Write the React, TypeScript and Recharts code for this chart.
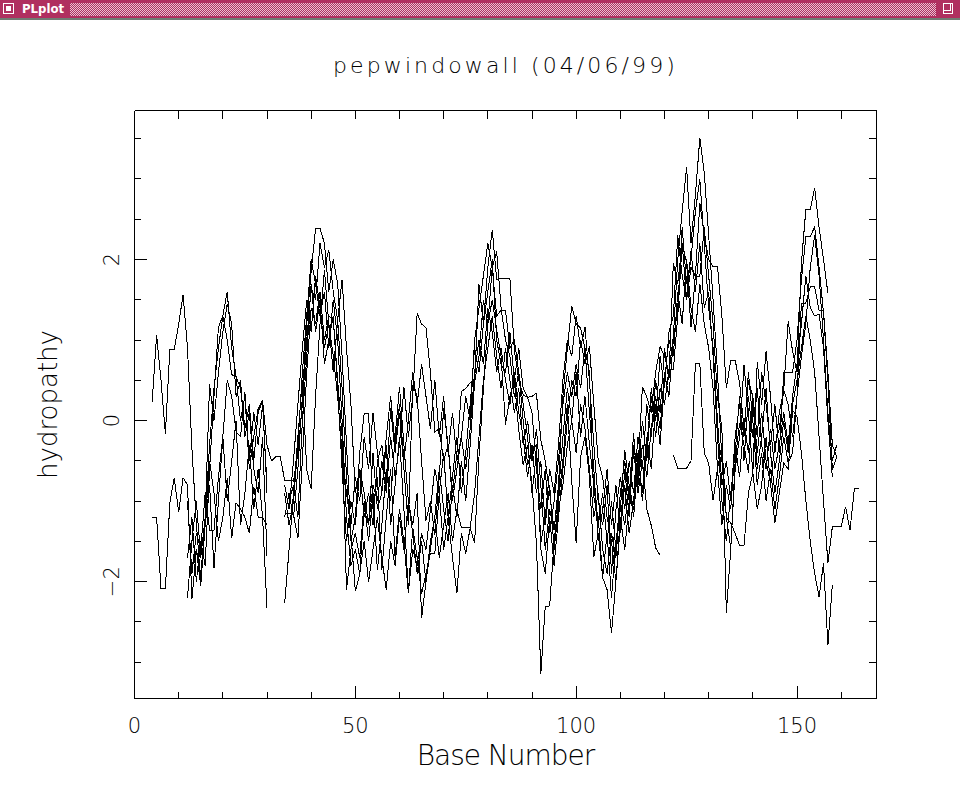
import React from 'react';
import { LineChart, Line, XAxis, YAxis } from 'recharts';

const N = null;

// Hydropathy profiles (Base Number -> value).
const s1Start = 4;
const s1 = [
  0.23, 1.06, 0.5, -0.16, 0.88, 0.88, 1.2, 1.56, 0.9, -0.34, -1.27, -2.0, -1.2, -0.3, 0.4, 0.9, 1.3, 1.6, 0.9, 0.55, 0.4, -0.1, 0.2, -0.5, 0.1, 0.25, -0.9,
  N, N, N,
  -1.2, -0.9, -1.2, -0.6, 0.3, 1.2, 1.85, 2.39, 2.39, 2.2,
  1.6, 2.0, 1.7, 0.8, -0.3, -1.4, -2.12, -1.9, -1.1, -1.3,
  -0.8, -1.0, -0.5, -0.9, -0.2, -0.7, -0.3, 0.42, -0.2, 0.3,
  1.33, 1.2, 1.15, 0.6, -0.14, -0.1, -0.5, -0.3, -0.9, -0.4,
  0.36, 0.4, 0.47, 0.47, 1.69, 1.2, 1.9, 2.37, 1.75, 1.77,
  1.77, 1.77, 0.88, 0.5, 0.32, 0.29, 0.3, 0.34, -0.24, -0.5,
  -0.9, -1.36, -0.8, 0.3, 0.9, 1.42, 1.2, 1.15, 0.9, 0.6,
  -0.95, -1.2, -1.95, -1.4, -2.2, -1.5, -1.1, -0.37, -0.8, -1.11,
  -0.6, 0.42, 0.29, 0.1, 0.6, 0.92, 0.8, 0.6, 1.04, 2.0,
  2.6, 3.15, 2.2, 2.8, 3.51, 3.08, 2.3, 1.5, 0.6, -0.5,
  -1.2, -1.58, -0.6, -0.2, 0.69, 0.1, -0.65, 0.73, 0.2, 0.86,
  0.3, -0.4, 0.1, 0.38, 1.23, 0.86, 0.6, 1.96, 2.62, 2.62,
  2.89, 2.4, 2.0, 1.58,
];

const s2Start = 4;
const s2 = [
  -1.2, -1.2, -2.08, -2.08, -1.02, -0.71, -1.14, -0.71, -0.8, -2.22, -1.6, -1.9, -1.3, -0.5, -0.9, -1.5, -1.2, -0.71, -1.46, -1.02, -1.1, -1.2, -1.4, -0.82, -1.2, -1.2, -2.33,
  N, N, N,
  -2.27, -1.6, -0.9, -0.2, 0.5, -0.61, -0.85, 0.3, 1.2, 1.87,
  1.2, 0.6, 1.25, 0.4, -0.7, -1.5, -1.2, -0.4, 0.09, 0.09,
  -1.1, -0.7, -1.86, -1.2, -0.6, -1.7, -1.1, -1.5, -2.14, -1.33,
  -1.7, -2.15, -1.9, -1.65, -1.65, -0.9, -1.6, -1.2, -1.7, -2.14,
  -1.4, -1.65, -1.33, -1.52, -0.45, 0.4, 1.2, 1.5, 1.13, 0.8,
  -0.05, 0.3, 0.5, -0.12, -0.55, -0.3, -0.8, -1.52, -3.14, -2.31,
  -2.3, -1.5, -1.0, -0.5, 0.2, -0.75, -1.52, -0.45, -0.2, -0.7,
  -1.69, -1.4, -1.95, -2.1, -2.64, -2.0, -1.2, -1.6, -1.0, -0.16,
  -0.9, -0.5, -1.1, -1.3, -1.58, -1.67,
  N, N,
  -0.43, -0.59, -0.59, -0.59, -0.5, 0.71, 0.71, -0.4, -0.53, -0.99,
  -0.6, -0.3, -1.2, -1.27, -1.4, -1.55, -1.55, -0.9, -0.65, -1.1,
  -0.8, -0.2, -0.78, -1.27, -0.9, -0.53, -0.6, 0.13, 0.05, -0.4,
  -0.99, -1.5, -1.9, -2.19, -1.77, -2.79, -2.04,
];

const s3Start = 12;
const s3 = [
  -1.7, -1.2, -2.0, -1.5, -1.8, -0.6, 0.3, 1.16, 1.3, 1.0, 0.57, 0.55, 0.0, 0.3, -0.6, -0.2, 0.15, 0.25, -0.3,
  -0.5, -0.45, -0.45, -0.74, -0.74, -0.75, -0.4, 0.2, 1.0, 1.65,
  1.5, 2.2, 1.9, 2.12, 1.6, 1.25, 1.75, 0.9, 0.2, -0.9,
  -0.6, -1.2, -0.9, -1.3, -0.5, -0.3, -0.8, 0.16, -0.4, 0.1,
  -0.6, -1.3, 0.44, 0.3, -0.5, -1.24, -1.0, -1.42, -0.7, 0.15,
  -0.3, -1.0, -0.6, -0.2, 0.3, 0.0, 1.0, 1.4, 1.8, 2.2,
  1.9, 1.3, 1.37, 1.37, 0.9, 1.0, 0.6, 0.0, -0.55, -0.38,
  -0.3, -1.52, -1.2, -0.6, -0.9, -0.3, 0.5, 1.0, 0.8, 1.3,
  0.9, 1.16, 0.5, -0.3, -1.0, -1.3, -0.8, -1.9, -1.11, -0.7,
  -1.1, -0.5, -0.9, -0.2, -0.6, 0.2, -0.2, 0.5, 0.1, 0.9,
  0.5, 1.96, 1.7, 2.2, 1.96, 1.16, 1.8, 2.7, 2.3, 2.0,
  1.91, 1.91, 1.3, 0.4, 0.75, 0.75, 0.47, -0.1, 0.5, 0.3,
  -0.2, 0.6, 0.2, -0.3, 0.2, -0.4, 0.6, 0.6, 0.6, 1.0,
  1.75, 2.28, 2.28, 2.41, 1.9, 1.34, 0.5, -0.61, -0.45,
];

const s4Start = 12;
const s4 = [
  -2.2, -1.5, -1.0, -1.7, -1.2, 0.45, 0.0, 0.6, 1.1, 1.45, 1.2, 0.3, 0.5, -0.2, 0.1, -0.6, -0.9, -0.2, -1.68,
  N, N, N,
  -1.15, -1.15, -1.17, -1.46, -0.5, 0.6, 1.4, 1.2, 1.6, 1.0,
  1.3, 1.25, 0.5, -0.2, -2.1, -1.6, -1.4, -1.7, -1.0, -1.5,
  -0.9, -1.86, -1.3, -0.6, -1.0, -0.2, 0.42, -0.3, -1.0, -1.3,
  -0.9, -2.45, -2.0, -1.5, -1.2, -0.6, -1.1, -1.5, -0.8, -1.2,
  -0.5, -1.0, -0.3, 0.47, 0.8, 1.5, 1.2, 1.9, 2.1, 1.4,
  1.0, 0.8, 0.3, 0.6, 0.2, -0.2, -0.9, -0.4, -1.6, -1.9,
  -1.2, -1.8, -1.2, -0.6, 0.0, 0.5, 0.3, 1.0, 0.7, 0.92,
  0.2, -0.5, -0.7, -1.2, -1.5, -2.0, -1.3, -0.8, -1.4, -1.0,
  -0.4, -1.0, -0.3, 0.3, -0.2, 0.4, 0.2, 0.63, 0.63, 1.3,
  2.2, 1.5, 1.9, 1.79, 1.79, 2.4, 1.8, 1.2, 0.29, -0.1,
  -2.39, -1.6, -0.5, -0.03, -0.3, -0.65, 0.2, -0.4, 0.1, -0.5,
  -0.78, -0.3, -0.1, 0.38, 0.2, -0.2, 0.3, 1.46, 1.46, 1.66,
  1.66, 1.37, 1.37, 0.6, -0.3, -0.45,
];

const s5Start = 13;
const s5 = [
  -1.8, -1.6, -2.05, -1.3, -0.8, -1.83, -1.0, -0.2, 0.5, 0.3, -0.14, -0.2, 0.35, -0.5, 0.1, -0.3, 0.2, -0.8,
  N, N, N, N,
  -1.0, -0.8, -1.2, 0.0, 0.8, 1.7, 1.1, 1.5, 0.7, 1.0,
  1.3, 0.4, -0.6, -1.5, -1.0, -1.3, -0.6, -0.9, -1.3, -0.4,
  -1.1, -0.9, -0.3, -1.3, -0.8, -0.2, -1.1, -2.14, -1.6, -1.8,
  -1.4, -1.6, -1.1, -0.6, -0.9, -0.4, -1.2, -0.7, -0.2, -0.9,
  -0.4, 0.2, 0.9, 0.6, 1.2, 1.6, 2.0, 1.0, 0.7, 0.6,
  1.1, 0.5, 0.9, 0.4, 0.29, 0.1, -0.6, -1.1, -0.6, -1.4,
  -1.0, -0.5, 0.2, 0.6, 0.3, 0.7, 0.4, 0.9, 0.1, -0.6,
  -1.5, -1.1, -0.6, -1.3, -0.8, -1.4, -0.6, -1.2, -0.3, -0.7,
  0.0, -0.5, 0.4, 0.0, 0.8, 0.4, 1.1, 1.3, 2.3, 1.8,
  1.5, 2.1, 1.6, 2.2, 1.4, 1.6, 0.8, -0.2, -1.0, -1.5,
  -0.9, -0.4, 0.3, -0.5, 0.3, -0.2, 0.4, -0.3, -0.6, -0.1,
  -0.6, -0.3, 0.1, -0.3, 0.3, 0.7, 1.2, 1.8, 1.4, 1.3,
  1.32, 0.9, 0.0, -0.7,
];

const s6Start = 12;
const s6 = [
  -1.0, -1.9, -1.4, -1.6, -0.9, -1.36, -1.36, -0.7, -0.2, -1.0, -0.5, 0.0, -1.3, -0.9, -0.3, -1.1, -0.6, -1.2, -1.3,
  N, N, N,
  -0.8, -1.1, -0.5, 0.2, 0.9, 1.5, 1.1, 1.8, 1.4, 0.9,
  1.2, 0.8, 0.3, -0.4, -0.9, -1.3, -0.7, -1.0, -0.2, -0.6,
  0.1, -0.4, -0.9, -0.2, 0.3, -0.3, 0.2, -0.5, 0.0, 0.6,
  0.2, 0.7, 0.3, -0.1, 0.5, -0.2, 0.3, -0.4, 0.1, -0.5,
  -0.2, -0.6, -0.1, 0.6, 1.0, 0.7, 1.4, 1.1, 0.6, 0.9,
  0.5, 0.2, 0.6, 0.1, -0.2, -0.7, -0.3, -0.9, -0.5, -1.3,
  -0.8, -1.6, -1.1, -0.8, -0.3, 0.0, -0.4, 0.2, -0.1, -0.6,
  -1.2, -0.9, -1.6, -1.9, -1.4, -1.7, -1.0, -1.3, -0.8, -1.2,
  -0.5, -0.9, -0.2, -0.6, 0.2, -0.3, 0.5, 1.0, 0.8, 1.6,
  1.2, 2.0, 1.4, 1.1, 1.7, 1.2, 0.9, 0.4, -0.6, -1.3,
  -0.8, -1.1, -0.3, -0.7, 0.0, -0.4, 0.3, -0.6, -0.2, 0.4,
  -0.4, -0.9, -0.5, 0.0, -0.4, 0.2, 0.5, 0.9, 1.3, 1.0,
  0.6, -0.2, -1.0, -1.77, -1.32, -1.32, -1.32, -1.07, -1.36, -0.84, -0.84,
];

const s7Start = 34;
const s7 = [
  -0.9, -1.3, -1.0, -0.3, 0.6, 1.3, 2.0, 1.7, 1.3, 1.6,
  0.9, 1.5, 1.0, 0.0, -1.2, -1.8, -1.6, -1.9, -1.5, -2.0,
  -1.6, -1.2, -1.7, -2.1, -1.5, -1.8, -1.2, -1.6, -1.0, -1.4,
  -1.9, -1.5, -2.0, -1.6, -1.2, -1.7, -1.3, -0.9, -1.5, -1.1,
  -1.33, -1.33, -1.33, -0.9, -0.2, 0.5, 0.9, 1.3, 0.8, 0.4,
  0.9, 0.5, 0.1, 0.4, -0.3, 0.0, -0.5, -0.1, -0.8, -1.6,
  -1.1, -1.36, -0.9, -0.2, 0.4, 0.0, 0.6, -0.2, 0.3, -0.3,
  -0.8, -1.3, -0.9, -1.5, -1.0, -1.6, -0.9, -0.5, -1.0, -0.4,
  -0.8, -0.3, -0.7, -0.1, 0.3, -0.1, 0.6, 0.3, 1.0, 1.4,
  2.4, 1.7, 2.0, 2.6, 3.0, 2.2, 1.4, 0.9, 0.0, -0.8,
  -0.5, -1.0, -0.2, 0.2, -0.2, 0.6, 0.0, -0.8, -0.4, -1.0,
  -0.6, -1.1, -0.7, -0.2, -0.53, -0.4, 0.3, 0.8, 1.2, 1.9,
  2.3, 1.8, 1.0, 0.1, -0.5, -0.3,
];

const seriesList = [
  { id: 's1', start: s1Start, vals: s1 },
  { id: 's2', start: s2Start, vals: s2 },
  { id: 's3', start: s3Start, vals: s3 },
  { id: 's4', start: s4Start, vals: s4 },
  { id: 's5', start: s5Start, vals: s5 },
  { id: 's6', start: s6Start, vals: s6 },
  { id: 's7', start: s7Start, vals: s7 },
];

const xTicks = [0, 10, 20, 30, 40, 50, 60, 70, 80, 90, 100, 110, 120, 130, 140, 150, 160];
const yTicks = [-3, -2.5, -2, -1.5, -1, -0.5, 0, 0.5, 1, 1.5, 2, 2.5, 3, 3.5];
const xDomain = [0, 168];
const yDomain = [-3.45, 3.85];

const title = 'pepwindowall (04/06/99)';
const xLabel = 'Base Number';
const yLabel = 'hydropathy';

const FONT = "'DejaVu Sans', 'Liberation Sans', sans-serif";

const toPoints = (start: number, vals: (number | null)[]) =>
  vals.map((y, i) => ({ x: start + i, y }));

const BottomTick = (props: any) => {
  const { x, y, payload } = props;
  const v = payload.value;
  const major = v % 50 === 0;
  return (
    <g>
      <line x1={x} x2={x} y1={y} y2={y - (major ? 13 : 7)} stroke="#000" strokeWidth={1} shapeRendering="crispEdges" />
      {major && (
        <text x={x} y={y + 34.5} textAnchor="middle" fontSize={21} fontFamily={FONT} fontWeight={200} fill="#000">
          {v}
        </text>
      )}
    </g>
  );
};

const TopTick = (props: any) => {
  const { x, y } = props;
  return <line x1={x} x2={x} y1={y} y2={y + 8} stroke="#000" strokeWidth={1} shapeRendering="crispEdges" />;
};

const LeftTick = (props: any) => {
  const { x, y, payload } = props;
  const v = payload.value;
  const major = Math.abs(v % 2) === 0;
  const lx = x - 15;
  const txt = v < 0 ? `\u2212${-v}` : `${v}`;
  return (
    <g>
      <line x1={x} x2={x + (major ? 12 : 6)} y1={y} y2={y} stroke="#000" strokeWidth={1} shapeRendering="crispEdges" />
      {major && (
        <text
          x={lx}
          y={y}
          transform={`rotate(-90, ${lx}, ${y})`}
          textAnchor="middle"
          fontSize={21}
          fontFamily={FONT}
          fontWeight={200}
          fill="#000"
        >
          {txt}
        </text>
      )}
    </g>
  );
};

const RightTick = (props: any) => {
  const { x, y } = props;
  return <line x1={x} x2={x - 8} y1={y} y2={y} stroke="#000" strokeWidth={1} shapeRendering="crispEdges" />;
};

const TitleBar = () => (
  <>
    <div style={{ position: 'absolute', left: 0, top: 0, width: 960, height: 18, background: '#b03060' }}>
      <div
        style={{
          position: 'absolute', left: 3, top: 3, width: 9, height: 9,
          border: '1px solid #ffffff', boxSizing: 'content-box',
        }}
      >
        <div style={{ position: 'absolute', left: 2, top: 2, width: 5, height: 5, background: '#ffffff' }} />
      </div>
      <div
        style={{
          position: 'absolute', left: 22, top: 1, color: '#ffffff',
          fontFamily: "'DejaVu Sans Condensed', 'DejaVu Sans', sans-serif",
          fontWeight: 'bold', fontSize: 13, lineHeight: '16px',
        }}
      >
        PLplot
      </div>
      <div
        style={{
          position: 'absolute', left: 70, top: 3, width: 866, height: 13,
          backgroundImage: 'repeating-conic-gradient(#e8c4d2 0% 25%, #b03060 0% 50%)',
          backgroundSize: '2px 2px',
        }}
      />
      <div
        style={{
          position: 'absolute', left: 943, top: 3, width: 10, height: 11,
          border: '1px solid #ffffff', boxSizing: 'border-box',
        }}
      >
        <div style={{ position: 'absolute', left: 0, top: 0, width: 6, height: 6, borderRight: '1px solid #fff', borderBottom: '1px solid #fff' }} />
      </div>
    </div>
    <div style={{ position: 'absolute', left: 0, top: 18, width: 960, height: 2, background: '#6f7d74' }} />
  </>
);

export default function App() {
  return (
    <div style={{ position: 'absolute', left: 0, top: 0, width: 960, height: 789, background: '#ffffff', overflow: 'hidden' }}>
      <style>{`.recharts-line-curve{shape-rendering:crispEdges}`}</style>
      <TitleBar />
      <div style={{ position: 'absolute', left: 0, top: 0 }}>
        <LineChart width={960} height={789} margin={{ top: 100.5, right: 73.5, bottom: 50.5, left: 94.5 }}>
          <XAxis
            xAxisId="bottom"
            dataKey="x"
            type="number"
            domain={xDomain}
            ticks={xTicks}
            interval={0}
            allowDataOverflow
            height={40}
            tickLine={false}
            tickSize={0}
            tickMargin={0}
            axisLine={{ stroke: '#000', strokeWidth: 1, shapeRendering: 'crispEdges' }}
            tick={BottomTick}
            label={(p: any) => {
              const vb = p.viewBox || { x: 134.5, y: 698.5, width: 742 };
              return (
                <text x={vb.x + vb.width / 2} y={vb.y + 66.5} textAnchor="middle" fontSize={28} letterSpacing={-1} fontFamily={FONT} fontWeight={200} fill="#000">
                  {xLabel}
                </text>
              );
            }}
          />
          <XAxis
            xAxisId="top"
            orientation="top"
            dataKey="x"
            type="number"
            domain={xDomain}
            ticks={xTicks}
            interval={0}
            allowDataOverflow
            height={10}
            tickLine={false}
            tickSize={0}
            tickMargin={0}
            axisLine={{ stroke: '#000', strokeWidth: 1, shapeRendering: 'crispEdges' }}
            tick={TopTick}
            label={(p: any) => {
              const vb = p.viewBox || { x: 134.5, y: 100.5, width: 742 };
              return (
                <text x={vb.x + vb.width / 2} y={vb.y - 27.5} textAnchor="middle" fontSize={22} letterSpacing={3.1} fontFamily={FONT} fontWeight={200} fill="#000">
                  {title}
                </text>
              );
            }}
          />
          <YAxis
            yAxisId="left"
            type="number"
            domain={yDomain}
            ticks={yTicks}
            interval={0}
            allowDataOverflow
            width={40}
            tickLine={false}
            tickSize={0}
            tickMargin={0}
            axisLine={{ stroke: '#000', strokeWidth: 1, shapeRendering: 'crispEdges' }}
            tick={LeftTick}
            label={(p: any) => {
              const vb = p.viewBox || { x: 94.5, y: 110.5, width: 40, height: 588 };
              const cx = vb.x - 37.5;
              const cy = vb.y + vb.height / 2;
              return (
                <text x={cx} y={cy} transform={`rotate(-90, ${cx}, ${cy})`} textAnchor="middle" fontSize={26} fontFamily={FONT} fontWeight={200} fill="#000">
                  {yLabel}
                </text>
              );
            }}
          />
          <YAxis
            yAxisId="right"
            orientation="right"
            type="number"
            domain={yDomain}
            ticks={yTicks}
            interval={0}
            allowDataOverflow
            width={10}
            tickLine={false}
            tickSize={0}
            tickMargin={0}
            axisLine={{ stroke: '#000', strokeWidth: 1, shapeRendering: 'crispEdges' }}
            tick={RightTick}
          />
          {seriesList.map((s) => (
            <Line
              key={s.id}
              xAxisId="bottom"
              yAxisId="left"
              data={toPoints(s.start, s.vals)}
              dataKey="y"
              type="linear"
              stroke="#000"
              strokeWidth={1}
              dot={false}
              activeDot={false}
              connectNulls={false}
              isAnimationActive={false}
            />
          ))}
        </LineChart>
      </div>
    </div>
  );
}
